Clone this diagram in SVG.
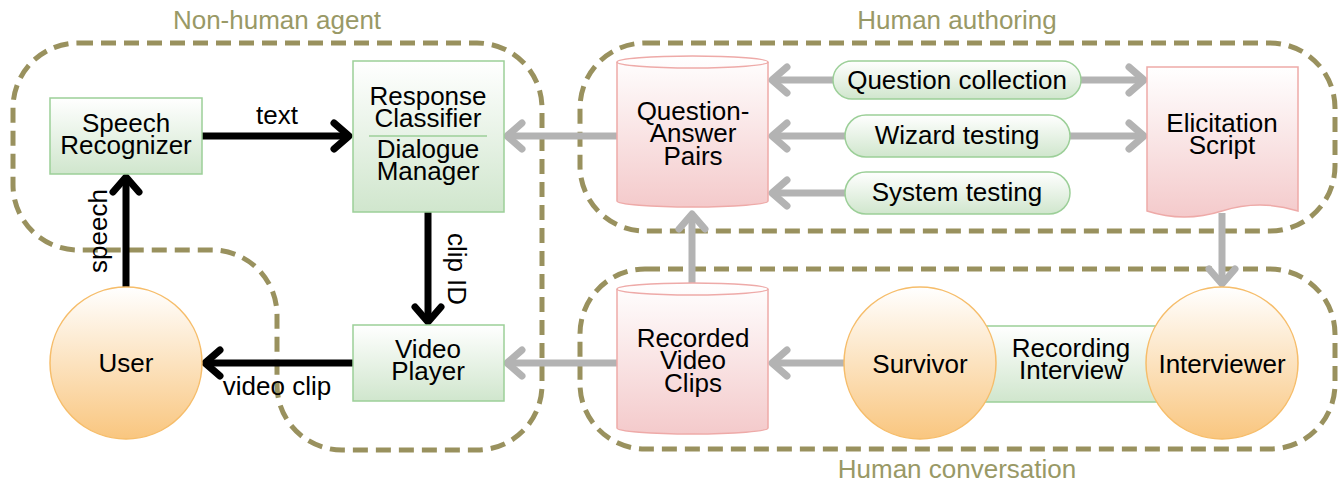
<svg xmlns="http://www.w3.org/2000/svg" width="1338" height="483" viewBox="0 0 1338 483">
  <defs>
    <linearGradient id="g-green" x1="0" y1="0" x2="0" y2="1">
      <stop offset="0" stop-color="#ffffff"/>
      <stop offset="1" stop-color="#d0e6cd"/>
    </linearGradient>
    <linearGradient id="g-pink" x1="0" y1="0" x2="0" y2="1">
      <stop offset="0" stop-color="#ffffff"/>
      <stop offset="1" stop-color="#f4cacb"/>
    </linearGradient>
    <linearGradient id="g-orange" x1="0" y1="0" x2="0" y2="1">
      <stop offset="0" stop-color="#ffffff"/>
      <stop offset="1" stop-color="#f9c67f"/>
    </linearGradient>
    <marker id="ah-black" markerUnits="userSpaceOnUse" markerWidth="40" markerHeight="40" viewBox="-20 -20 40 40" refX="0" refY="0" orient="auto" overflow="visible">
      <path d="M-15,-13 L0,0 L-15,13" fill="none" stroke="#000000" stroke-width="7" stroke-linecap="round" stroke-linejoin="round"/>
    </marker>
    <marker id="ah-gray" markerUnits="userSpaceOnUse" markerWidth="40" markerHeight="40" viewBox="-20 -20 40 40" refX="0" refY="0" orient="auto" overflow="visible">
      <path d="M-15,-13 L0,0 L-15,13" fill="none" stroke="#b3b3b3" stroke-width="7" stroke-linecap="round" stroke-linejoin="round"/>
    </marker>
    <style>
      text { font-family: "Liberation Sans", Arial, Helvetica, sans-serif; font-size: 26px; fill: #000000; text-anchor: middle; }
      text.group-label { fill: #999966; }
      .region { fill: none; stroke: #99915e; stroke-width: 5; stroke-dasharray: 15 8; }
      .box { fill: url(#g-green); stroke: #9ccf98; stroke-width: 1.5; }
      .store { fill: url(#g-pink); stroke: #eeaaa8; stroke-width: 1.5; }
      .store-rim { fill: none; stroke: #eeaaa8; stroke-width: 1.5; }
      .person { fill: url(#g-orange); stroke: #f6bd6a; stroke-width: 1.5; }
      .flow { fill: none; stroke: #000000; stroke-width: 7; marker-end: url(#ah-black); }
      .feed { fill: none; stroke: #b3b3b3; stroke-width: 7; marker-end: url(#ah-gray); }
    </style>
  </defs>

  <!-- grouping regions -->
  <g id="regions">
    <path class="region" d="M78,43 H477 A65,65 0 0 1 542,108 V385 A65,65 0 0 1 477,450 H342 A65,65 0 0 1 277,385 V315 A65,65 0 0 0 212,250 H78 A65,65 0 0 1 13,185 V108 A65,65 0 0 1 78,43 Z"/>
    <rect class="region" x="580" y="43" width="755" height="188" rx="65" ry="65"/>
    <rect class="region" x="580" y="269" width="755" height="180" rx="65" ry="65"/>
    <text class="group-label" x="277" y="29">Non-human agent</text>
    <text class="group-label" x="957" y="29">Human authoring</text>
    <text class="group-label" x="957" y="478">Human conversation</text>
  </g>

  <!-- connectors -->
  <g id="connectors">
    <path class="flow" d="M202,136 H349"/>
    <path class="flow" d="M126,287 V177"/>
    <path class="flow" d="M428,212 V322"/>
    <path class="flow" d="M353,363 H205"/>
    <path class="feed" d="M617,136 H507"/>
    <path class="feed" d="M833,80 H772"/>
    <path class="feed" d="M1081,80 H1144"/>
    <path class="feed" d="M845,136 H772"/>
    <path class="feed" d="M1070,136 H1144"/>
    <path class="feed" d="M845,193 H772"/>
    <path class="feed" d="M692,283 V214"/>
    <path class="feed" d="M1222,213 V284"/>
    <path class="feed" d="M617,363 H507"/>
    <path class="feed" d="M844,363 H772"/>
    <text x="277" y="124">text</text>
    <text x="277" y="395">video clip</text>
    <text transform="translate(107,231) rotate(-90)">speech</text>
    <text transform="translate(448,269) rotate(90)">clip ID</text>
  </g>

  <g id="speech-recognizer">
    <rect class="box" x="50" y="98" width="152" height="76"/>
    <text x="126" y="132">Speech</text>
    <text x="126" y="154">Recognizer</text>
  </g>

  <g id="response-classifier">
    <rect class="box" x="353" y="61" width="151" height="151"/>
    <line x1="369" y1="136" x2="487" y2="136" stroke="#9ccf98" stroke-width="1.5"/>
    <text x="428" y="105">Response</text>
    <text x="428" y="127">Classifier</text>
    <text x="428" y="158">Dialogue</text>
    <text x="428" y="180">Manager</text>
  </g>

  <g id="video-player">
    <rect class="box" x="353" y="325" width="151" height="76"/>
    <text x="428" y="358">Video</text>
    <text x="428" y="380">Player</text>
  </g>

  <g id="user">
    <circle class="person" cx="126" cy="363" r="76"/>
    <text x="126" y="372">User</text>
  </g>

  <g id="qa-pairs">
    <path class="store" d="M617,62 A75.5,6 0 0 1 768,62 V201 A75.5,6 0 0 1 617,201 Z"/>
    <path class="store-rim" d="M617,62 A75.5,6 0 0 0 768,62"/>
    <text x="693" y="120">Question-</text>
    <text x="693" y="142">Answer</text>
    <text x="693" y="165">Pairs</text>
  </g>

  <g id="question-collection">
    <rect class="box" x="833" y="61" width="248" height="38" rx="19" ry="19"/>
    <text x="957" y="89">Question collection</text>
  </g>

  <g id="wizard-testing">
    <rect class="box" x="845" y="115" width="225" height="42" rx="21" ry="21"/>
    <text x="957" y="144">Wizard testing</text>
  </g>

  <g id="system-testing">
    <rect class="box" x="845" y="172" width="225" height="42" rx="21" ry="21"/>
    <text x="957" y="201">System testing</text>
  </g>

  <g id="elicitation-script">
    <path class="store" d="M1147,67 H1298 V211 Q1260,199 1222,211 Q1184,223 1147,211 Z"/>
    <text x="1222" y="132">Elicitation</text>
    <text x="1222" y="154">Script</text>
  </g>

  <g id="recorded-video-clips">
    <path class="store" d="M617,289 A75.5,6 0 0 1 768,289 V428 A75.5,6 0 0 1 617,428 Z"/>
    <path class="store-rim" d="M617,289 A75.5,6 0 0 0 768,289"/>
    <text x="693" y="347">Recorded</text>
    <text x="693" y="369">Video</text>
    <text x="693" y="392">Clips</text>
  </g>

  <g id="recording-interview">
    <rect class="box" x="960" y="326" width="230" height="76"/>
    <text x="1071" y="357">Recording</text>
    <text x="1071" y="379">Interview</text>
  </g>

  <g id="survivor">
    <circle class="person" cx="920" cy="363" r="76"/>
    <text x="920" y="373">Survivor</text>
  </g>

  <g id="interviewer">
    <circle class="person" cx="1222" cy="363" r="76"/>
    <text x="1222" y="373">Interviewer</text>
  </g>
</svg>
